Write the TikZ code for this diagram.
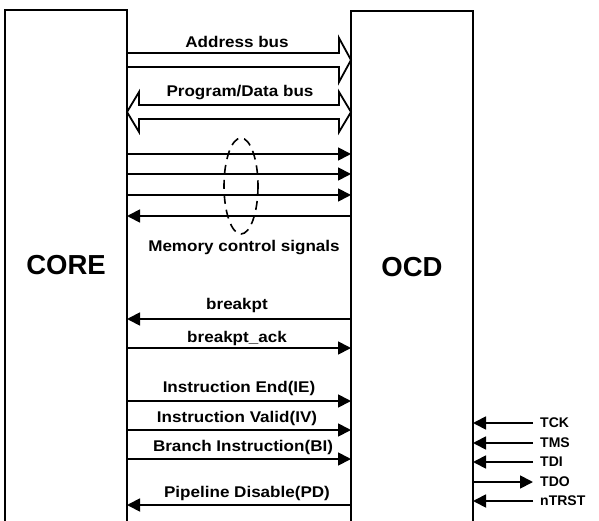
\documentclass[tikz,border=0pt]{standalone}
\usepackage{fontspec}
\setmainfont{Liberation Sans}
\newfontfamily\sigfont[FakeStretch=1.1]{Liberation Sans}
\usetikzlibrary{arrows.meta}

\begin{document}
\begin{tikzpicture}[x=1pt,y=-1pt,
    blk/.style={line width=2pt},
    bus/.style={line width=1.8pt,line join=miter},
    sig/.style={line width=1.8pt,-{Triangle[length=13pt,width=13pt]}},
    lbl/.style={font=\sigfont\bfseries\fontsize{15.5}{17}\selectfont,inner sep=0pt},
    big/.style={font=\bfseries\fontsize{27.5}{30}\selectfont,inner sep=0pt},
    pin/.style={font=\bfseries\fontsize{14}{15}\selectfont,inner sep=0pt,
      anchor=west,text height=1.6ex,text depth=0pt}]
      \def\cx{127}
      \def\ox{351}
      \def\jx{473}

      \def\hl{12}
      \def\hw{15}

      \useasboundingbox (0,0) rectangle (599,521);

      % the two blocks, open at the bottom
      \draw[blk] (5,521) -- (5,10) -- (\cx,10) -- (\cx,521);
      \draw[blk] (\ox,521) -- (\ox,11) -- (\jx,11) -- (\jx,521);
      \node[big] (core) at (66,265) {CORE};
      \node[big] (ocd) at (412,267) {OCD};

      % end points on the block edges
      \foreach \n/\y in {m1/154,m2/174,m3/195,m4/216,bp/319,ack/348,
                         ie/401,iv/430,bi/459,pd/505}
      {
        \coordinate (c\n) at (\cx,\y);
        \coordinate (o\n) at (\ox,\y);
      }

      % buses
      \coordinate (ab1) at (\cx,53);
      \coordinate (ab2) at (\cx,67);
      \draw[bus]
      (ab1) -- (\ox-\hl,53) -- (\ox-\hl,53-\hw) -- (\ox,60) --
      (\ox-\hl,67+\hw) -- (\ox-\hl,67) -- (ab2);
      \node[lbl] (addr) at (237,42) {Address bus};

      \draw[bus]
      (\cx+\hl,105) -- (\ox-\hl,105) -- (\ox-\hl,105-\hw+2) --
      (\ox,112) -- (\ox-\hl,119+\hw-2) -- (\ox-\hl,119) --
      (\cx+\hl,119) -- (\cx+\hl,119+\hw-2) -- (\cx,112) --
      (\cx+\hl,105-\hw+2) -- cycle;
      \node[lbl] (pdata) at (240,93) {Program/Data bus};

      % single signals
      \foreach \n in {m1,m2,m3,ack,ie,iv,bi}
        \draw[sig] (c\n) -- (o\n);
      \foreach \n in {m4,bp,pd}
        \draw[sig] (o\n) -- (c\n);

      \draw[line width=1.6pt,dash pattern=on 9pt off 6pt]
      (241,186) ellipse [x radius=17, y radius=48];
      \node[lbl] (mem) at (244,248) {Memory control signals};

      \node[lbl] (bpt) at (237,305) {breakpt};
      \node[lbl] (bpta) at (237,338) {breakpt\_ack};
      \node[lbl] (ietxt) at (239,388) {Instruction End(IE)};
      \node[lbl] (ivtxt) at (237,418) {Instruction Valid(IV)};
      \node[lbl] (bitxt) at (243,447) {Branch Instruction(BI)};
      \node[lbl] (pdtxt) at (247,493) {Pipeline Disable(PD)};

      % jtag pins
      \foreach \n/\y/\t in {tck/423/TCK,tms/443/TMS,tdi/462/TDI,
                            tdo/482/TDO,ntrst/501/nTRST}
      {
        \coordinate (j\n) at (\jx,\y);
        \node[pin] (\n) at (540,\y) {\t};
        \coordinate (e\n) at ([xshift=-7pt]\n.west);
      }
      \foreach \n in {tck,tms,tdi,ntrst}
        \draw[sig] (e\n) -- (j\n);
      \draw[sig] (jtdo) -- (etdo);
    \end{tikzpicture}
\end{document}
